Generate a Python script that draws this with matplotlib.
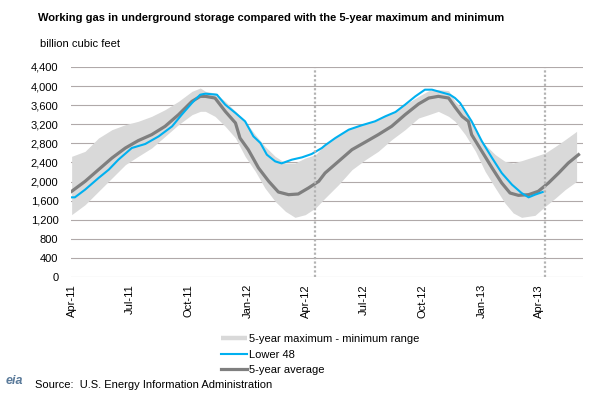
import numpy as np
import pandas as pd
import matplotlib
matplotlib.use("Agg")
import matplotlib.pyplot as plt
import matplotlib.dates as mdates
from matplotlib.lines import Line2D

plt.rcParams['font.family'] = ['Liberation Sans', 'DejaVu Sans']

# x values are days since 2011-04-01
start = pd.Timestamp('2011-04-01')

band_days = [0, 21, 42, 63, 84, 104, 125, 146, 167, 188, 201, 209, 224, 240, 256, 271,
             287, 302, 318, 334, 349, 365, 381, 396, 417, 438, 459, 479, 500, 521, 542,
             558, 573, 589, 599, 615, 631, 646, 662, 677, 690, 703, 724, 740, 756, 771, 789]
band_hi = [2528, 2633, 2912, 3087, 3192, 3262, 3366, 3506, 3680, 3890, 3960, 3890, 3855, 3680,
           3471, 3262, 2982, 2738, 2528, 2388, 2388, 2493, 2563, 2780, 2982, 3122, 3227, 3297,
           3436, 3611, 3785, 3904, 3925, 3904, 3680, 3471, 3052, 2773, 2563, 2423, 2388, 2437,
           2528, 2598, 2738, 2877, 3052]
band_lo = [1306, 1515, 1795, 2074, 2354, 2528, 2703, 2947, 3192, 3401, 3471, 3471, 3366, 3157,
           2912, 2528, 2214, 1865, 1585, 1376, 1250, 1306, 1446, 1655, 1935, 2249, 2458, 2633,
           2877, 3087, 3331, 3401, 3471, 3366, 3262, 2982, 2633, 2214, 1865, 1550, 1341, 1250,
           1292, 1481, 1655, 1830, 2004]

avg_days = [0, 21, 42, 63, 84, 104, 125, 146, 167, 188, 201, 209, 224, 240, 256, 263, 276,
            292, 308, 323, 339, 354, 370, 386, 396, 417, 438, 459, 479, 500, 521, 542, 558,
            573, 589, 599, 610, 620, 625, 641, 657, 672, 685, 698, 714, 729, 745, 761, 776, 792]
avg_vals = [1795, 2004, 2249, 2493, 2703, 2857, 2982, 3157, 3401, 3680, 3785, 3785, 3750, 3471,
            3227, 2912, 2668, 2284, 2004, 1781, 1725, 1739, 1865, 2004, 2179, 2423, 2668, 2828,
            2982, 3157, 3401, 3625, 3750, 3785, 3750, 3560, 3366, 3262, 2982, 2633, 2284, 1970,
            1760, 1711, 1725, 1795, 1970, 2179, 2388, 2563]

l48_days = [0, 5, 21, 42, 58, 73, 94, 115, 136, 157, 172, 188, 201, 209, 227, 240, 256, 271,
            284, 295, 305, 318, 328, 344, 360, 375, 391, 396, 412, 433, 453, 474, 490, 506, 521,
            537, 552, 563, 576, 591, 599, 607, 625, 641, 657, 672, 688, 703, 714, 724, 736]
l48_vals = [1669, 1669, 1830, 2074, 2249, 2458, 2703, 2787, 2947, 3157, 3401, 3646, 3820, 3841,
            3820, 3611, 3436, 3262, 2947, 2807, 2563, 2423, 2381, 2458, 2507, 2577, 2703, 2759,
            2912, 3087, 3178, 3262, 3366, 3457, 3611, 3785, 3925, 3925, 3876, 3820, 3750, 3646,
            3262, 2843, 2493, 2179, 1935, 1760, 1669, 1725, 1781]

marker_dates = ['2012-04-15', '2013-04-10']
tick_dates = pd.date_range('2011-04-01', '2013-04-01', freq='QS-APR')


def to_dates(days):
    return start + pd.to_timedelta(days, unit='D')


fig = plt.figure(figsize=(5.89, 3.97), dpi=100)
ax = fig.add_axes([71 / 589, 1 - 277 / 397, 512 / 589, 210 / 397])

ax.fill_between(to_dates(band_days), band_lo, band_hi, color='#d9d9d9', lw=0, zorder=2)
ax.plot(to_dates(l48_days), l48_vals, color='#00b0f0', lw=1.5, zorder=4)
ax.plot(to_dates(avg_days), avg_vals, color='#7f7f7f', lw=2.3, zorder=3)

for d in marker_dates:
    ax.axvline(pd.Timestamp(d), ymax=0.995, color='#b3b3b3', lw=1.6, ls=(0, (1, 1)), zorder=5)

ax.set_ylim(0, 4400)
ax.set_yticks(np.arange(0, 4401, 400))
ax.yaxis.set_major_formatter(matplotlib.ticker.FuncFormatter(lambda v, p: f'{int(v):,}'))
ax.set_xlim(to_dates([-1])[0], to_dates([799])[0])
ax.set_xticks(tick_dates)
ax.xaxis.set_major_formatter(mdates.DateFormatter('%b-%y'))
ax.tick_params(axis='x', length=0, pad=5, labelsize=8, rotation=90)
ax.tick_params(axis='y', length=0, pad=9, labelsize=8)
ax.grid(axis='y', color='#b0a9a9', lw=0.8, zorder=1)
ax.set_axisbelow(True)
for s in ax.spines.values():
    s.set_visible(False)

fig.text(38 / 589, 1 - 18 / 397, 'Working gas in underground storage compared with the 5-year maximum and minimum',
         fontsize=8, fontweight='bold', va='center', ha='left')
fig.text(40 / 589, 1 - 44 / 397, 'billion cubic feet', fontsize=8, va='center', ha='left')

handles = [Line2D([], [], color='#d9d9d9', lw=3.2, solid_capstyle='butt'),
           Line2D([], [], color='#00b0f0', lw=1.5),
           Line2D([], [], color='#7f7f7f', lw=2.3)]
labels = ['5-year maximum - minimum range', 'Lower 48', '5-year average']
fig.legend(handles, labels, loc='upper left', bbox_to_anchor=(221 / 589, 1 - 334 / 397),
           frameon=False, fontsize=8, handlelength=2.3,
           handletextpad=0.2, labelspacing=0.5, borderpad=0, borderaxespad=0)

fig.text(6 / 589, 1 - 381 / 397, 'eia', fontsize=9, color='#5a7a9a', style='italic',
         fontweight='bold', va='center', ha='left')
fig.text(35 / 589, 1 - 385 / 397, 'Source:  U.S. Energy Information Administration',
         fontsize=8, va='center', ha='left')

fig.savefig('out.png', dpi=100)
